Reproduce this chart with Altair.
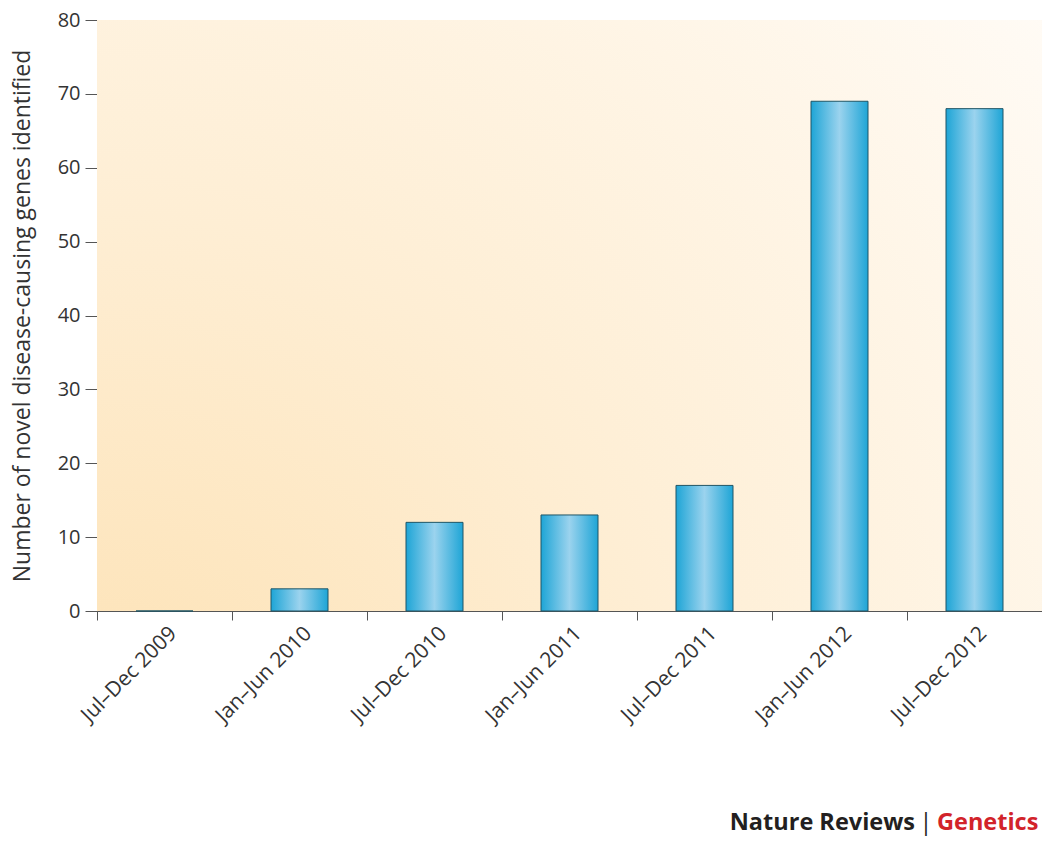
import altair as alt
import pandas as pd

periods = ["Jul–Dec 2009", "Jan–Jun 2010", "Jul–Dec 2010", "Jan–Jun 2011",
           "Jul–Dec 2011", "Jan–Jun 2012", "Jul–Dec 2012"]
genes = [0, 3, 12, 13, 17, 69, 68]

df = pd.DataFrame({"period": periods, "genes": genes})

W, H = 945, 591
FONT = "Open Sans"

bg = alt.Chart(pd.DataFrame({"a": [0]})).mark_rect(
    color=alt.RadialGradient(
        gradient="radial",
        x1=0, y1=1, r1=0,
        x2=0, y2=1, r2=1.35,
        stops=[
            alt.GradientStop(color="#fde1b2", offset=0),
            alt.GradientStop(color="#feeed4", offset=0.45),
            alt.GradientStop(color="#fffcf8", offset=1),
        ],
    )
).encode(x=alt.value(0), x2=alt.value(W + 4), y=alt.value(0), y2=alt.value(H))

bars = alt.Chart(df).mark_bar(
    width=57,
    color=alt.LinearGradient(
        gradient="linear", x1=0, x2=1, y1=0, y2=0,
        stops=[
            alt.GradientStop(color="#1ea5d6", offset=0),
            alt.GradientStop(color="#9bd3ee", offset=0.5),
            alt.GradientStop(color="#1ea5d6", offset=1),
        ],
    ),
    stroke="#1f5566",
    strokeWidth=1,
).encode(
    x=alt.X("period:N", sort=periods,
            scale=alt.Scale(paddingInner=0, paddingOuter=0),
            axis=alt.Axis(title=None, bandPosition=0, labelOffset=9,
                          labelAngle=-45, labelAlign="right", labelBaseline="middle",
                          labelPadding=10, labelFontSize=21, labelFont=FONT,
                          labelColor="#333333", tickSize=9, tickColor="#555555",
                          domainColor="#555555", labelLimit=300)),
    y=alt.Y("genes:Q", scale=alt.Scale(domain=[0, 80], nice=False),
            axis=alt.Axis(title="Number of novel disease-causing genes identified",
                          values=[0, 10, 20, 30, 40, 50, 60, 70, 80],
                          titleFont=FONT, titleFontSize=23, titleFontWeight="normal",
                          titleColor="#333333", titlePadding=23,
                          labelFont=FONT, labelFontSize=20, labelColor="#333333",
                          labelPadding=5, tickSize=12, tickColor="#555555",
                          domainColor="#555555", grid=False)),
)

t1 = alt.Chart(pd.DataFrame({"t": ["Nature Reviews"]})).mark_text(
    font=FONT, fontSize=23.5, fontWeight="bold", color="#231f20", align="right",
    baseline="alphabetic"
).encode(text="t:N", x=alt.value(818), y=alt.value(810))

t_sep = alt.Chart(pd.DataFrame({"t": ["|"]})).mark_text(
    font=FONT, fontSize=23.5, fontWeight="normal", color="#231f20", align="center",
    baseline="alphabetic"
).encode(text="t:N", x=alt.value(829), y=alt.value(810))

t2 = alt.Chart(pd.DataFrame({"t": ["Genetics"]})).mark_text(
    font=FONT, fontSize=23.5, fontWeight="bold", color="#d2232a", align="left",
    baseline="alphabetic"
).encode(text="t:N", x=alt.value(840), y=alt.value(810))

chart = alt.layer(bg, bars, t1, t_sep, t2).properties(
    width=W, height=H,
    autosize=alt.AutoSizeParams(type="none"),
    padding={"left": 89, "top": 12, "right": 0, "bottom": 225},
).configure_view(stroke=None).configure(background="white")

chart.save("out.html", embed_options={"renderer": "svg", "actions": False})
